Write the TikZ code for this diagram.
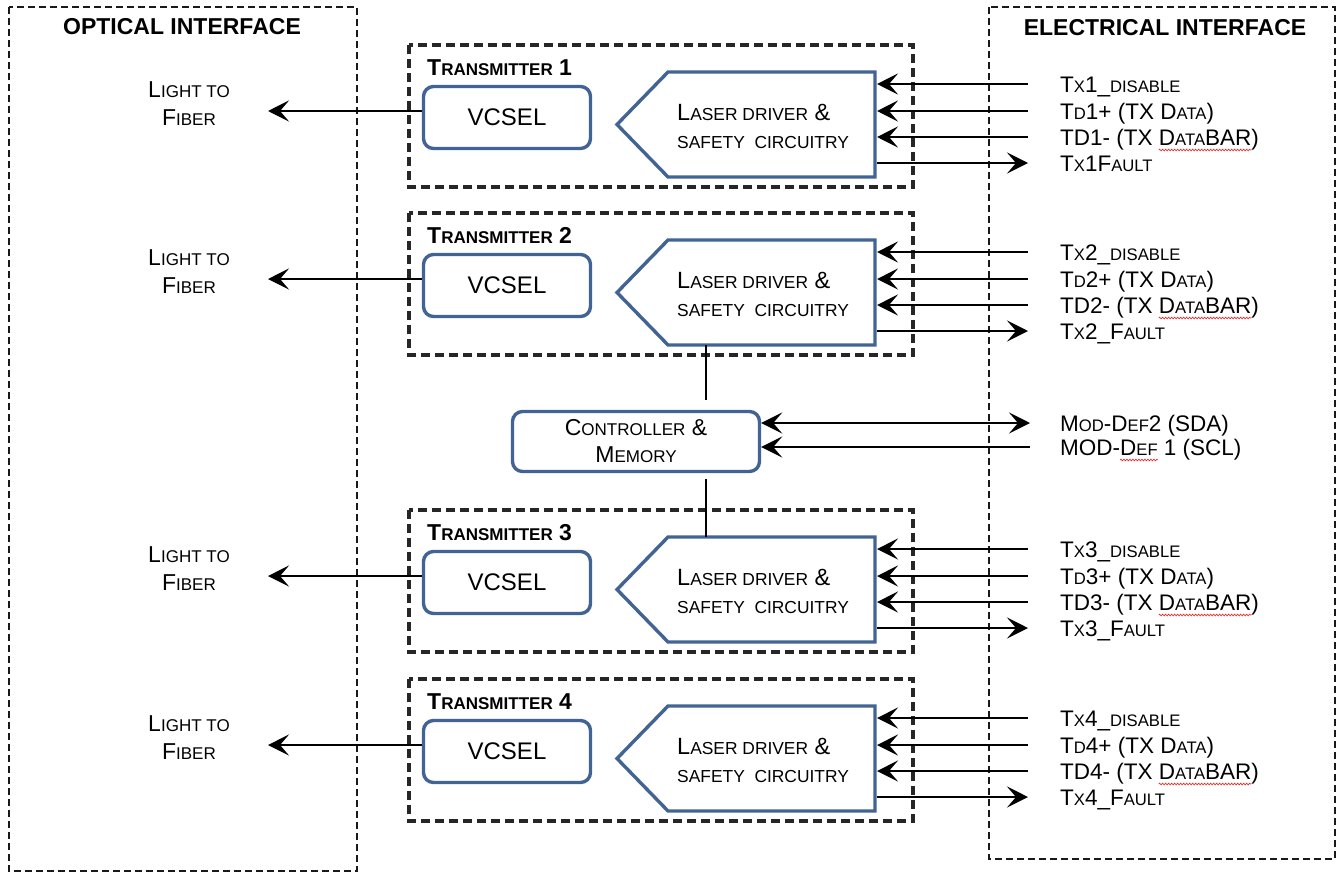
\documentclass[tikz,border=0pt]{standalone}
\usepackage{fontspec}
\setmainfont{Liberation Sans}
\usetikzlibrary{arrows.meta,positioning,decorations.pathmorphing}

\definecolor{boxblue}{RGB}{66,100,148}
\definecolor{waveRed}{RGB}{225,45,45}

% fake small caps: a smaller size of the same face
\makeatletter
\newcommand\sm[1]{{\fontsize{\the\dimexpr0.74\dimexpr\f@size pt\relax\relax}{\baselineskip}\selectfont#1}}
\makeatother
% red spell-check squiggle under a word
\newsavebox\wavebox
\newlength\wavelen
\newcommand\spellwave[1]{\sbox\wavebox{#1}\setlength\wavelen{\wd\wavebox}\rlap{\usebox\wavebox}\tikz[baseline=0pt]{\useasboundingbox (0pt,0pt) rectangle (\wavelen,1pt); \draw[waveRed,line width=0.7pt,decorate,decoration={zigzag,segment length=3pt,amplitude=0.8pt}] (0pt,-5pt) -- (\wavelen,-5pt);}}

\begin{document}
\begin{tikzpicture}[x=1pt,y=-1pt,
    font=\fontsize{22.5}{27}\selectfont,
    iface/.style={draw=black!90,line width=2pt,dash pattern=on 7pt off 4pt},
    txbox/.style={draw=black!85,line width=3.4pt,dash pattern=on 9pt off 5pt},
    blk/.style={draw=boxblue,line width=3.4pt,rounded corners=10pt,fill=white},
    drv/.style={draw=boxblue,line width=3.4pt,line join=miter},
    sig/.style={line width=2.6pt,-{Stealth[length=21pt,width=21pt,inset=9pt]}},
    bus/.style={line width=2.6pt,{Stealth[length=21pt,width=21pt,inset=9pt]}-{Stealth[length=21pt,width=21pt,inset=9pt]}},
    wire/.style={line width=2.6pt},
    hdr/.style={font=\fontsize{23}{27}\selectfont\bfseries,inner sep=0pt},
    ttl/.style={font=\fontsize{23}{27}\selectfont\bfseries,anchor=west,inner sep=0pt},
    lbl/.style={anchor=west,inner sep=0pt,text height=16pt,text depth=0pt},
    fib/.style={font=\fontsize{23}{28}\selectfont,align=center,inner sep=0pt},
    drvtxt/.style={font=\fontsize{23.5}{28}\selectfont,align=left,anchor=west,inner sep=0pt}]

    \useasboundingbox (0,0) rectangle (1338,873);

    % --- INTERFACE FRAMES ---
    \draw[iface] (9,7) rectangle (357,871);
    \draw[iface] (989,7) rectangle (1335,859);
    \node[hdr] (opt) at (182,27) {OPTICAL INTERFACE};
    \node[hdr] (ele) at (1165,28) {ELECTRICAL INTERFACE};

    % --- FOUR TRANSMITTERS ---
    % \o is the vertical offset from transmitter 1
    \foreach \i/\o in {1/0,2/168,3/465,4/634} {
        \draw[txbox] (409,45+\o) rectangle (913,187+\o);
        \node[ttl] (t\i) at (427,68+\o) {T\sm{RANSMITTER} \i};

        % VCSEL block
        \node[blk,minimum width=167pt,minimum height=62pt,
              font=\fontsize{24}{28}\selectfont] (v\i) at (507,117.5+\o) {VCSEL};

        % laser driver (arrow-shaped block pointing left)
        \draw[drv] (617,124.5+\o) -- (668,72+\o) -- (875,72+\o)
                   -- (875,177+\o) -- (668,177+\o) -- cycle;
        \node[drvtxt] (d\i) at (677,126+\o) {L\sm{ASER DRIVER} \&\\\sm{SAFETY\ \ CIRCUITRY}};
        \coordinate (dR\i) at (877,124.5+\o);
        \coordinate (dT\i) at (706,72+\o);
        \coordinate (dB\i) at (706,177+\o);

        % light output
        \node[fib] (f\i) at (189,104+\o) {L\sm{IGHT TO}\\F\sm{IBER}};
        \coordinate (fa\i) at (268,111+\o);
        \draw[sig] (v\i.west |- fa\i) -- (fa\i);

        % electrical signals
        \node[lbl] (a\i) at (1060,84+\o) {T\sm{X}\i\_\sm{DISABLE}};
        \node[lbl] (b\i) at (1060,111+\o) {T\sm{D}\i+ (TX D\sm{ATA})};
        \node[lbl] (c\i) at (1060,137+\o) {TD\i- (TX \spellwave{D\sm{ATA}BAR})};
        \node[lbl] (e\i) at (1060,163+\o) {T\sm{X}\i\ifnum\i>1\_\fi F\sm{AULT}};
        \draw[sig] ([xshift=-32pt]a\i.west) -- (a\i.west -| dR\i);
        \draw[sig] ([xshift=-32pt]b\i.west) -- (b\i.west -| dR\i);
        \draw[sig] ([xshift=-32pt]c\i.west) -- (c\i.west -| dR\i);
        \draw[sig] (e\i.west -| dR\i) -- ([xshift=-32pt]e\i.west);
    }

    % --- CONTROLLER ---
    \node[blk,minimum width=247pt,minimum height=60pt,align=center,
          font=\fontsize{23}{27}\selectfont] (ctl) at (636,441.5) {C\sm{ONTROLLER} \&\\M\sm{EMORY}};
    \coordinate (ctlT) at (706,400);
    \coordinate (ctlB) at (706,479);
    \draw[wire] (dB2) -- (ctlT);
    \draw[wire] (ctlB) -- (dT3);

    % two-wire bus
    \node[lbl] (sda) at (1060,423) {M\sm{OD}-D\sm{EF}2 (SDA)};
    \node[lbl] (scl) at (1060,447) {MOD-\spellwave{D\sm{EF}} 1 (SCL)};
    \draw[bus] ([xshift=-30pt]sda.west) -- (sda.west -| ctl.east);
    \draw[sig] ([xshift=-30pt]scl.west) -- (scl.west -| ctl.east);

\end{tikzpicture}
\end{document}
